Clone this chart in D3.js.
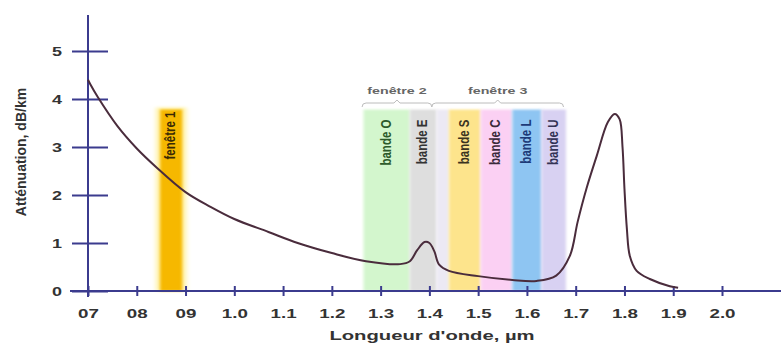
<!DOCTYPE html>
<html>
<head>
<meta charset="utf-8">
<script src="https://cdn.jsdelivr.net/npm/d3@7/dist/d3.min.js"></script>
<style>
  html, body { margin: 0; padding: 0; background: #fff; }
  svg { display: block; font-family: "Liberation Sans", Arial, sans-serif; }
</style>
</head>
<body>
<svg id="chart" width="781" height="343"></svg>
<script>
// ---- data ----
const xTickValues = [0.7, 0.8, 0.9, 1.0, 1.1, 1.2, 1.3, 1.4, 1.5, 1.6, 1.7, 1.8, 1.9, 2.0];
const xTickLabels = ["07", "08", "09", "1.0", "1.1", "1.2", "1.3", "1.4", "1.5", "1.6", "1.7", "1.8", "1.9", "2.0"];
const yTickValues = [0, 1, 2, 3, 4, 5];

const wavelength = [0.70, 0.705, 0.72, 0.76, 0.80, 0.84, 0.90, 0.95, 1.00, 1.07, 1.13, 1.20, 1.27, 1.34, 1.36, 1.375, 1.39, 1.40, 1.41, 1.42, 1.44, 1.50, 1.57, 1.62, 1.66, 1.688, 1.704, 1.722, 1.743, 1.766, 1.78, 1.79, 1.796, 1.80, 1.805, 1.811, 1.825, 1.852, 1.893, 1.91];
const attenuation = [4.40, 4.30, 4.04, 3.44, 2.97, 2.58, 2.06, 1.76, 1.50, 1.23, 1.00, 0.79, 0.62, 0.56, 0.62, 0.85, 1.02, 1.00, 0.83, 0.55, 0.42, 0.31, 0.23, 0.21, 0.32, 0.73, 1.44, 2.13, 2.81, 3.52, 3.69, 3.58, 3.00, 2.13, 1.29, 0.73, 0.42, 0.25, 0.10, 0.07];

const bandNames  = ["bande O", "bande E", "", "bande S", "bande C", "bande L", "bande U"];
const bandStart  = [1.265, 1.36, 1.415, 1.44, 1.505, 1.57, 1.63];
const bandEnd    = [1.36, 1.415, 1.44, 1.505, 1.57, 1.63, 1.68];
const bandColors = ["#d3f6cd", "#dedede", "#ece9f4", "#fde48c", "#fbd0f3", "#8ec5f2", "#d8d1f2"];
const bandText   = ["#2c5a2a", "#333333", "#333333", "#3a3320", "#3a2a3a", "#1d3b78", "#333355"];

const window1Name = "fenêtre 1";
const window1Range = [0.848, 0.893];
const windowNames = ["fenêtre 2", "fenêtre 3"];
const windowFrom = [1.262, 1.405];
const windowTo = [1.405, 1.675];
const bandTopValue = 3.78;

// ---- layout ----
const svg = d3.select("#chart");
const x = d3.scaleLinear().domain([0.7, 2.0]).range([88, 722]);
const y = d3.scaleLinear().domain([0, 5]).range([291, 51]);
const axisColor = "#3b3b8e";
const SX = 1.5; // horizontal stretch of the source image text

const defs = svg.append("defs");
defs.append("filter").attr("id", "soft").attr("x", "-20%").attr("width", "140%")
  .append("feGaussianBlur").attr("stdDeviation", "1.6 1");
defs.append("filter").attr("id", "glow").attr("x", "-50%").attr("width", "200%")
  .append("feGaussianBlur").attr("stdDeviation", "2.5 1.5");

// bands
const bands = svg.append("g");
bandStart.forEach((s, i) => {
  bands.append("rect")
    .attr("x", x(s)).attr("y", y(bandTopValue))
    .attr("width", x(bandEnd[i]) - x(s))
    .attr("height", y(0) - y(bandTopValue))
    .attr("fill", bandColors[i])
    .attr("filter", "url(#soft)");
});
bandStart.forEach((s, i) => {
  if (!bandNames[i]) return;
  const cx = (x(s) + x(bandEnd[i])) / 2;
  bands.append("text")
    .attr("transform", `translate(${cx + 4},${y(bandTopValue) + 10}) scale(1.35,1) rotate(-90)`)
    .attr("text-anchor", "end")
    .attr("font-size", 11.5)
    .attr("font-weight", "bold")
    .attr("fill", bandText[i])
    .text(bandNames[i]);
});

// window 1
svg.append("rect")
  .attr("x", x(window1Range[0]) - 4).attr("y", y(bandTopValue) - 2)
  .attr("width", x(window1Range[1]) - x(window1Range[0]) + 8)
  .attr("height", y(0) - y(bandTopValue) + 2)
  .attr("fill", "#fff1a0").attr("filter", "url(#glow)");
svg.append("rect")
  .attr("x", x(window1Range[0])).attr("y", y(bandTopValue))
  .attr("width", x(window1Range[1]) - x(window1Range[0]))
  .attr("height", y(0) - y(bandTopValue))
  .attr("fill", "#f6b800").attr("filter", "url(#soft)");
svg.append("text")
  .attr("transform", `translate(${(x(window1Range[0]) + x(window1Range[1])) / 2 + 4},${y(bandTopValue) + 2}) scale(1.35,1) rotate(-90)`)
  .attr("text-anchor", "end")
  .attr("font-size", 11.5)
  .attr("font-weight", "bold")
  .attr("fill", "#3a2a05")
  .text(window1Name);

// window 2 / 3 brackets
const br = svg.append("g");
windowNames.forEach((n, i) => {
  const a = x(windowFrom[i]), b = x(windowTo[i]), c = (a + b) / 2, yy = 103;
  br.append("path")
    .attr("d", `M${a},${yy + 4} Q${a},${yy} ${a + 4},${yy} L${c - 3},${yy} L${c},${yy - 3} L${c + 3},${yy} L${b - 4},${yy} Q${b},${yy} ${b},${yy + 4}`)
    .attr("fill", "none").attr("stroke", "#bcbcbc").attr("stroke-width", 1);
  br.append("text")
    .attr("transform", `translate(${c},${94}) scale(${SX},1)`)
    .attr("text-anchor", "middle")
    .attr("font-size", 9.5)
    .attr("font-weight", "bold")
    .attr("fill", "#666")
    .text(n);
});

// axes
const xAxis = svg.append("g").attr("transform", `translate(0,${y(0)})`)
  .call(d3.axisBottom(x).tickValues(xTickValues).tickFormat((d, i) => xTickLabels[i]).tickSize(5));
xAxis.select(".domain").remove();
xAxis.selectAll(".tick line").attr("y1", -5).attr("y2", 5).attr("stroke", axisColor).attr("stroke-width", 2);
xAxis.selectAll(".tick text")
  .attr("y", 0).attr("dy", 0)
  .attr("transform", `translate(0,27) scale(${SX},1)`)
  .attr("font-size", 12.5).attr("font-weight", "bold").attr("fill", "#333")
  .attr("font-family", "Liberation Sans, Arial, sans-serif");

const yAxis = svg.append("g").attr("transform", `translate(${x(0.7)},0)`)
  .call(d3.axisLeft(y).tickValues(yTickValues).tickFormat(d3.format("d")).tickSize(16));
yAxis.select(".domain").remove();
yAxis.selectAll(".tick line").attr("x1", -16).attr("x2", 20).attr("stroke", axisColor).attr("stroke-width", 2);
yAxis.selectAll(".tick text")
  .attr("x", 0).attr("dy", "0.35em")
  .attr("text-anchor", "middle")
  .attr("transform", `translate(-31,0) scale(${SX},1)`)
  .attr("font-size", 12).attr("font-weight", "bold").attr("fill", "#333")
  .attr("font-family", "Liberation Sans, Arial, sans-serif");

svg.append("line").attr("x1", 70).attr("x2", 781).attr("y1", y(0)).attr("y2", y(0))
  .attr("stroke", axisColor).attr("stroke-width", 2);
svg.append("line").attr("x1", x(0.7)).attr("x2", x(0.7)).attr("y1", 15).attr("y2", y(0) + 6)
  .attr("stroke", axisColor).attr("stroke-width", 2);

// curve
const pts = wavelength.map((w, i) => [w, attenuation[i]]);
svg.append("path")
  .datum(pts)
  .attr("fill", "none")
  .attr("stroke", "#4a2c3c")
  .attr("stroke-width", 2)
  .attr("d", d3.line().x(d => x(d[0])).y(d => y(d[1])).curve(d3.curveCatmullRom.alpha(0.5)));

// titles
svg.append("text")
  .attr("transform", `translate(432,340) scale(${SX},1)`)
  .attr("text-anchor", "middle")
  .attr("font-size", 13.5).attr("font-weight", "bold").attr("fill", "#333")
  .text("Longueur d'onde, µm");
svg.append("text")
  .attr("transform", `translate(26,152) rotate(-90)`)
  .attr("text-anchor", "middle")
  .attr("font-size", 14).attr("font-weight", "bold").attr("fill", "#333")
  .text("Atténuation, dB/km");
</script>
</body>
</html>
